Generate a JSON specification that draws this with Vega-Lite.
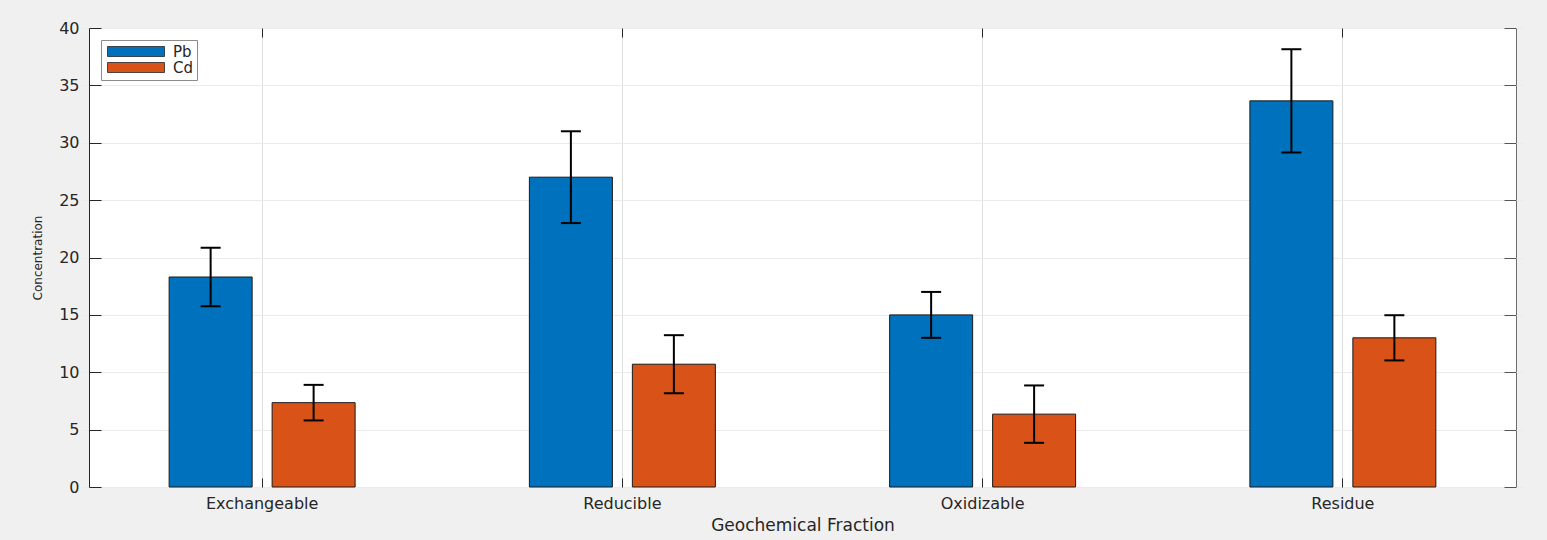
{
  "$schema": "https://vega.github.io/schema/vega-lite/v6.json",
  "width": 1427,
  "height": 459,
  "autosize": {"type": "none"},
  "padding": {"left": 89, "top": 28, "right": 31, "bottom": 53},
  "background": "#f0f0f0",
  "config": {
    "font": "DejaVu Sans",
    "view": {"fill": "white", "stroke": "#6e6e6e", "strokeWidth": 1},
    "axis": {
      "labelColor": "#262626",
      "titleColor": "#262626",
      "labelFont": "DejaVu Sans",
      "titleFont": "DejaVu Sans",
      "titleFontWeight": "normal",
      "tickColor": "#262626",
      "domainColor": "#262626"
    },
    "legend": {
      "orient": "top-left",
      "offset": 12,
      "padding": 4,
      "fillColor": "white",
      "strokeColor": "#8c8c8c",
      "symbolType": "M-1,-1H10.4V1H-1Z",
      "symbolSize": 100,
      "symbolStrokeColor": "#262626",
      "symbolStrokeWidth": 0.8,
      "symbolOpacity": 1,
      "labelOffset": 53,
      "labelFontSize": 15,
      "labelColor": "#262626",
      "labelFont": "DejaVu Sans",
      "rowPadding": 0,
      "title": null
    }
  },
  "data": {
    "values": [
      {"fraction": "Exchangeable", "metal": "Pb", "value": 18.3, "lo": 15.75, "hi": 20.85},
      {"fraction": "Exchangeable", "metal": "Cd", "value": 7.35, "lo": 5.8, "hi": 8.9},
      {"fraction": "Reducible", "metal": "Pb", "value": 27.0, "lo": 23.0, "hi": 31.0},
      {"fraction": "Reducible", "metal": "Cd", "value": 10.7, "lo": 8.17, "hi": 13.23},
      {"fraction": "Oxidizable", "metal": "Pb", "value": 15.0, "lo": 13.0, "hi": 17.0},
      {"fraction": "Oxidizable", "metal": "Cd", "value": 6.35, "lo": 3.85, "hi": 8.85},
      {"fraction": "Residue", "metal": "Pb", "value": 33.65, "lo": 29.15, "hi": 38.15},
      {"fraction": "Residue", "metal": "Cd", "value": 13.0, "lo": 11.03, "hi": 14.97}
    ]
  },
  "encoding": {
    "xOffset": {
      "field": "metal",
      "type": "nominal",
      "sort": ["Pb", "Cd"],
      "scale": {"paddingInner": 0.194, "paddingOuter": 0.846}
    }
  },
  "layer": [
    {
      "mark": {"type": "bar", "stroke": "#1a1a1a", "strokeWidth": 1},
      "encoding": {
        "x": {
          "field": "fraction",
          "type": "nominal",
          "sort": ["Exchangeable", "Reducible", "Oxidizable", "Residue"],
          "scale": {"range": [-7, 1434], "paddingInner": 0, "paddingOuter": 0},
          "axis": {
            "title": "Geochemical Fraction",
            "titleFontSize": 17,
            "titlePadding": 6,
            "labelFontSize": 16,
            "labelAngle": 0,
            "labelPadding": 17,
            "tickSize": -9,
            "tickWidth": 1,
            "grid": true,
            "gridColor": "#dedede",
            "domain": false
          }
        },
        "y": {
          "field": "value",
          "type": "quantitative",
          "scale": {"domain": [0, 40], "nice": false},
          "axis": {
            "title": "Concentration",
            "titleFontSize": 12,
            "titlePadding": 14,
            "labelFontSize": 16,
            "labelPadding": 22,
            "values": [0, 5, 10, 15, 20, 25, 30, 35, 40],
            "tickSize": -12,
            "grid": true,
            "gridColor": "#ebebeb",
            "domainColor": "#262626"
          }
        },
        "color": {
          "field": "metal",
          "type": "nominal",
          "sort": ["Pb", "Cd"],
          "scale": {"domain": ["Pb", "Cd"], "range": ["#0072bd", "#d95319"]}
        }
      }
    },
    {
      "mark": {"type": "rule", "color": "black", "strokeWidth": 2},
      "encoding": {
        "x": {
          "field": "fraction",
          "type": "nominal",
          "sort": ["Exchangeable", "Reducible", "Oxidizable", "Residue"],
          "axis": {
            "orient": "top",
            "title": null,
            "labels": false,
            "grid": false,
            "domain": false,
            "tickSize": -9,
            "tickColor": "#262626"
          }
        },
        "y": {
          "field": "lo",
          "type": "quantitative",
          "axis": {
            "orient": "right",
            "title": null,
            "labels": false,
            "grid": false,
            "domain": false,
            "values": [0, 5, 10, 15, 20, 25, 30, 35, 40],
            "tickSize": -12,
            "tickColor": "#555555"
          }
        },
        "y2": {"field": "hi"}
      }
    },
    {
      "mark": {"type": "tick", "color": "black", "size": 20, "thickness": 2, "opacity": 1},
      "encoding": {
        "x": {
          "field": "fraction",
          "type": "nominal",
          "sort": ["Exchangeable", "Reducible", "Oxidizable", "Residue"],
          "axis": null
        },
        "y": {"field": "lo", "type": "quantitative", "axis": null}
      }
    },
    {
      "mark": {"type": "tick", "color": "black", "size": 20, "thickness": 2, "opacity": 1},
      "encoding": {
        "x": {
          "field": "fraction",
          "type": "nominal",
          "sort": ["Exchangeable", "Reducible", "Oxidizable", "Residue"],
          "axis": null
        },
        "y": {"field": "hi", "type": "quantitative", "axis": null}
      }
    }
  ],
  "resolve": {"axis": {"x": "independent", "y": "independent"}}
}
